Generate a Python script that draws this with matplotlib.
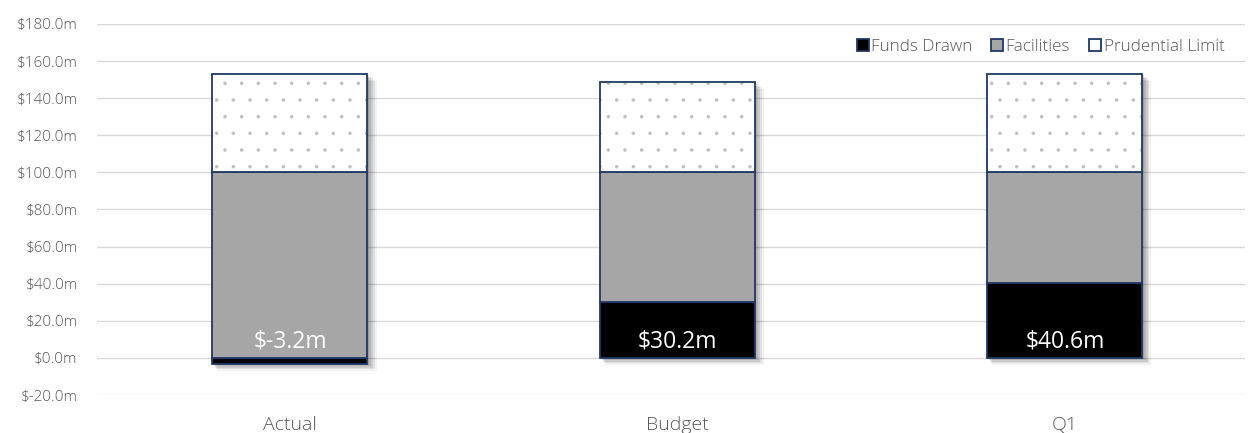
import numpy as np
import matplotlib.pyplot as plt
from matplotlib.patches import Patch

# ----------------------------
# Data
# ----------------------------
categories = ["Actual", "Budget", "Q1"]
funds_drawn = [-3.2, 30.2, 40.6]
facilities = [100.0, 69.8, 59.4]
prudential = [53.0, 49.0, 53.0]
label_text = ["$-3.2m", "$30.2m", "$40.6m"]
yticks = [-20, 0, 20, 40, 60, 80, 100, 120, 140, 160, 180]

plt.rcParams['font.family'] = ['Open Sans', 'DejaVu Sans']
plt.rcParams['font.weight'] = 'light'
plt.rcParams['hatch.color'] = '#BFBFBF'
plt.rcParams['hatch.linewidth'] = 0.1

navy = '#1F3864'
grey_text = '#595959'

fig = plt.figure(figsize=(12.52, 4.33), dpi=100)
ax = fig.add_axes([97 / 1252, 1 - 395 / 433, (1245 - 97) / 1252, (395 - 24) / 433])

x = np.arange(len(categories))
w = 0.4

fd = np.array(funds_drawn)
fac_bottom = np.clip(fd, 0, None)
pl_bottom = fac_bottom + np.array(facilities)
stack_bottom = np.clip(fd, None, 0)
stack_top = pl_bottom + np.array(prudential)

# soft drop shadow behind each whole stack (a few faded layers)
px_x = 1 / 387.5
px_y = 1 / 1.856
for k, a in zip([7, 5.5, 4, 2.5, 1], [0.05, 0.07, 0.09, 0.11, 0.12]):
    ax.bar(x + k * px_x, stack_top - stack_bottom, w + k * px_x * 0.6,
           bottom=stack_bottom - k * px_y, color='black', alpha=a, linewidth=0, zorder=2)

ax.bar(x, fd, w, color='black', edgecolor=navy, linewidth=1.3, zorder=3)
ax.bar(x, facilities, w, bottom=fac_bottom, color='#A6A6A6', edgecolor=navy, linewidth=1.3,
       zorder=3)
# prudential limit: dotted fill, then navy outline
ax.bar(x, prudential, w, bottom=pl_bottom, color='white', edgecolor='#BFBFBF', linewidth=0,
       hatch='.', zorder=3)
ax.bar(x, prudential, w, bottom=pl_bottom, fill=False, edgecolor=navy, linewidth=1.3, zorder=4)

for xi, txt in zip(x, label_text):
    ax.text(xi, 9, txt, ha='center', va='center', color='white', fontsize=16.5,
            fontweight='normal', zorder=5)

ax.set_xlim(-0.498, 2.465)
ax.set_ylim(-20, 180)
ax.set_yticks(yticks)
ax.set_yticklabels([f"${v:.1f}m" for v in yticks])
ax.set_xticks(x)
ax.set_xticklabels(categories)
ax.tick_params(axis='both', length=0, colors=grey_text)
ax.tick_params(axis='x', pad=15, labelsize=14)
ax.tick_params(axis='y', pad=14, labelsize=11)
ax.grid(axis='y', color='#D9D9D9', linewidth=1)
ax.set_axisbelow(True)
for s in ax.spines.values():
    s.set_visible(False)

handles = [Patch(facecolor='black', edgecolor=navy, linewidth=1.3, label='Funds Drawn'),
           Patch(facecolor='#A6A6A6', edgecolor=navy, linewidth=1.3, label='Facilities'),
           Patch(facecolor='white', edgecolor=navy, linewidth=1.3, label='Prudential Limit')]
leg = ax.legend(handles=handles, loc='upper right', bbox_to_anchor=(0.988, 0.977), ncol=3,
                frameon=False, fontsize=12.3, handlelength=0.7, handleheight=0.7,
                handletextpad=0.15, columnspacing=1.1, borderaxespad=0)
for t in leg.get_texts():
    t.set_color(grey_text)

fig.savefig('out.png', dpi=100)
